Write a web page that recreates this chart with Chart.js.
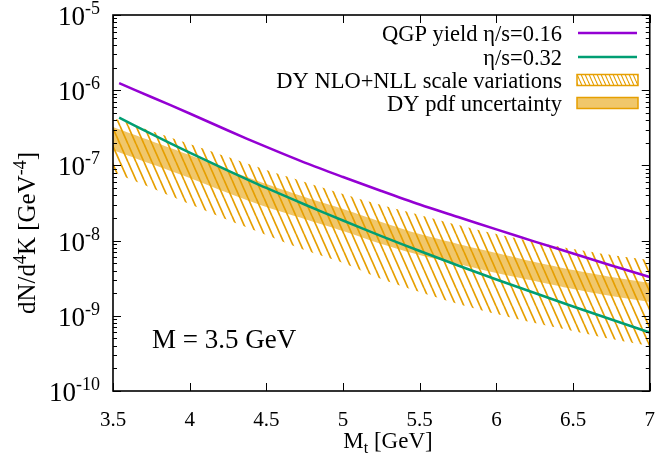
<!DOCTYPE html>
<html>
<head>
<meta charset="utf-8">
<script src="https://cdn.jsdelivr.net/npm/chart.js@4.4.1/dist/chart.umd.min.js"></script>
<style>
  html, body { margin: 0; padding: 0; background: #fff; }
  #wrap { width: 672px; height: 460px; }
</style>
</head>
<body>
<div id="wrap"><canvas id="yield-chart" width="672" height="460"></canvas></div>
<script>
// transverse mass grid [GeV]
const mtBand = [3.5, 3.75, 4.0, 4.25, 4.5, 4.75, 5.0, 5.25, 5.5, 5.75, 6.0, 6.25, 6.5, 6.75, 7.0];
const mtCurve = [3.54, 3.75, 4.0, 4.25, 4.5, 4.75, 5.0, 5.25, 5.5, 5.75, 6.0, 6.25, 6.5, 6.75, 7.0];

// QGP thermal yield, dN/d^4K [GeV^-4]
const qgpEta016 = [1.24e-6, 8.12e-7, 4.90e-7, 2.91e-7, 1.76e-7, 1.09e-7, 7.01e-8, 4.57e-8, 3.02e-8, 2.06e-8, 1.41e-8, 9.7e-9, 6.74e-9, 4.67e-9, 3.28e-9];
const qgpEta032 = [4.31e-7, 2.62e-7, 1.48e-7, 8.55e-8, 5.01e-8, 3.02e-8, 1.85e-8, 1.15e-8, 7.27e-9, 4.67e-9, 3.04e-9, 2.01e-9, 1.33e-9, 8.93e-10, 6.0e-10];

// Drell-Yan bands
const dyScaleHigh = [4.27e-7, 2.87e-7, 1.93e-7, 1.29e-7, 8.69e-8, 6.02e-8, 4.17e-8, 2.97e-8, 2.19e-8, 1.61e-8, 1.22e-8, 9.58e-9, 7.73e-9, 6.43e-9, 5.52e-9];
const dyScaleLow = [8.17e-8, 5.01e-8, 3.07e-8, 1.88e-8, 1.19e-8, 7.50e-9, 5.04e-9, 3.09e-9, 2.07e-9, 1.44e-9, 1.06e-9, 8.02e-10, 6.28e-10, 4.91e-10, 3.97e-10];
const dyPdfHigh = [3.24e-7, 2.11e-7, 1.37e-7, 8.69e-8, 5.66e-8, 3.80e-8, 2.63e-8, 1.77e-8, 1.22e-8, 9.01e-9, 6.84e-9, 5.19e-9, 4.06e-9, 3.28e-9, 2.73e-9];
const dyPdfLow = [1.60e-7, 1.04e-7, 6.80e-8, 4.30e-8, 2.80e-8, 1.94e-8, 1.34e-8, 9.01e-9, 6.43e-9, 4.89e-9, 3.71e-9, 2.90e-9, 2.27e-9, 1.83e-9, 1.53e-9];

// axis ticks
const mtTicks = [3.5, 4, 4.5, 5, 5.5, 6, 6.5, 7];
const yDecades = [-5, -6, -7, -8, -9, -10];

const legendLabels = ['QGP yield \u03b7/s=0.16', '\u03b7/s=0.32', 'DY NLO+NLL scale variations', 'DY pdf uncertainty'];

const PURPLE = '#9400d3';
const GREEN = '#009e73';
const ORANGE = '#e69f00';
const ORANGE_FILL = 'rgba(230, 159, 0, 0.58)';
const SERIF = '"Liberation Serif", "Times New Roman", serif';

function pts(xs, ys) {
    return xs.map((x, i) => ({ x: x, y: ys[i] }));
}

function makeHatch(ctx, w, h, lw) {
    const c = document.createElement('canvas');
    c.width = w;
    c.height = h;
    const g = c.getContext('2d');
    g.strokeStyle = ORANGE;
    g.lineWidth = lw;
    for (let k = -1; k <= 1; k++) {
        g.beginPath();
        g.moveTo(k * w, 0);
        g.lineTo((k + 1) * w, h);
        g.stroke();
    }
    return ctx.createPattern(c, 'repeat');
}

const canvas = document.getElementById('yield-chart');
const ctx = canvas.getContext('2d');
const hatch = makeHatch(ctx, 8, 18, 1.7);
const hatchKey = makeHatch(ctx, 4, 9, 1.1);

function line(c, x1, y1, x2, y2) {
    c.beginPath();
    c.moveTo(x1, y1);
    c.lineTo(x2, y2);
    c.stroke();
}

// draws pieces of text with superscripts/subscripts, returns total width
function richText(c, parts, x, y, big, small, shift, measureOnly) {
    let cx = x;
    parts.forEach(p => {
        const scr = p.sup || p.sub;
        c.font = (scr ? small : big) + 'px ' + SERIF;
        if (!measureOnly) {
            let ty = y;
            if (p.sup) ty = y - shift;
            if (p.sub) ty = y + shift;
            c.fillText(p.t, cx, ty);
        }
        cx += c.measureText(p.t).width;
    });
    return cx - x;
}

const framePlugin = {
    id: 'frame',
    afterDraw(chart) {
        const c = chart.ctx;
        const a = chart.chartArea;
        const xs = chart.scales.x;
        const ys = chart.scales.y;
        c.save();
        c.strokeStyle = '#000';
        c.fillStyle = '#000';

        // major x ticks, bottom and top, pointing inward
        c.lineWidth = 1;
        mtTicks.forEach(v => {
            const px = Math.round(xs.getPixelForValue(v)) + 0.5;
            line(c, px, a.bottom, px, a.bottom - 8);
            line(c, px, a.top, px, a.top + 8);
        });

        // log ticks on left and right
        yDecades.forEach(n => {
            for (let k = 1; k <= 9; k++) {
                const v = k * Math.pow(10, n);
                if (v > 1e-5 * 1.0001) continue;
                const py = Math.round(ys.getPixelForValue(v)) + 0.5;
                const len = k === 1 ? 8 : 4;
                line(c, a.left, py, a.left + len, py);
                line(c, a.right, py, a.right - len, py);
            }
        });

        // border
        c.lineWidth = 1.6;
        c.strokeRect(a.left, a.top, a.right - a.left, a.bottom - a.top);

        // y tick labels 10^n
        c.textAlign = 'left';
        c.textBaseline = 'alphabetic';
        yDecades.forEach(n => {
            const py = ys.getPixelForValue(Math.pow(10, n));
            const parts = [{ t: '10' }, { t: String(n), sup: true }];
            const w = richText(c, parts, 0, 0, 27, 18, 11, true);
            richText(c, parts, 100 - w, py + 10, 27, 18, 11, false);
        });

        // y axis title
        const yTitle = [{ t: 'dN/d' }, { t: '4', sup: true }, { t: 'K [GeV' }, { t: '-4', sup: true }, { t: ']' }];
        c.save();
        c.translate(35, 233);
        c.rotate(-Math.PI / 2);
        const tw = richText(c, yTitle, 0, 0, 25, 18, 9, true);
        richText(c, yTitle, -tw / 2, 0, 25, 18, 9, false);
        c.restore();

        // x axis title M_t [GeV]
        const xTitle = [{ t: 'M' }, { t: 't', sub: true }, { t: ' [GeV]' }];
        const xw = richText(c, xTitle, 0, 0, 23, 16, 5, true);
        richText(c, xTitle, 388 - xw / 2, 448, 23, 16, 5, false);

        // legend, text right aligned, key on the right
        const rowY = [33, 57, 80, 103];
        c.font = '22.5px ' + SERIF;
        c.textAlign = 'right';
        legendLabels.forEach((lbl, i) => {
            c.fillStyle = '#000';
            c.fillText(lbl, 562, rowY[i] + 7.5);
        });
        c.lineWidth = 2.5;
        c.strokeStyle = PURPLE;
        line(c, 578, rowY[0], 637, rowY[0]);
        c.strokeStyle = GREEN;
        line(c, 578, rowY[1], 637, rowY[1]);
        c.lineWidth = 1.5;
        c.strokeStyle = ORANGE;
        c.fillStyle = hatchKey;
        c.fillRect(577, rowY[2] - 5.5, 61, 11);
        c.strokeRect(577, rowY[2] - 5.5, 61, 11);
        c.fillStyle = ORANGE_FILL;
        c.fillRect(577, rowY[3] - 5.5, 61, 11);
        c.strokeRect(577, rowY[3] - 5.5, 61, 11);

        // mass label
        c.fillStyle = '#000';
        c.textAlign = 'left';
        c.font = '27px ' + SERIF;
        c.fillText('M = 3.5 GeV', 152, 348);

        c.restore();
    }
};

new Chart(ctx, {
    type: 'line',
    data: {
        datasets: [
            { label: legendLabels[0], data: pts(mtCurve, qgpEta016), borderColor: PURPLE, borderWidth: 2.5, fill: false },
            { label: legendLabels[1], data: pts(mtCurve, qgpEta032), borderColor: GREEN, borderWidth: 2.5, fill: false },
            { label: 'scale high', data: pts(mtBand, dyScaleHigh), borderWidth: 0, borderColor: 'rgba(0,0,0,0)', backgroundColor: hatch, fill: '+1' },
            { label: 'scale low', data: pts(mtBand, dyScaleLow), borderWidth: 0, borderColor: 'rgba(0,0,0,0)', fill: false },
            { label: 'pdf high', data: pts(mtBand, dyPdfHigh), borderWidth: 0, borderColor: 'rgba(0,0,0,0)', backgroundColor: ORANGE_FILL, fill: '+1' },
            { label: 'pdf low', data: pts(mtBand, dyPdfLow), borderWidth: 0, borderColor: 'rgba(0,0,0,0)', fill: false }
        ]
    },
    options: {
        responsive: false,
        animation: false,
        devicePixelRatio: 1,
        layout: { padding: { top: 15, right: 8, left: 0, bottom: 0 } },
        elements: { point: { radius: 0 }, line: { tension: 0.3 } },
        plugins: {
            legend: { display: false },
            tooltip: { enabled: false }
        },
        scales: {
            x: {
                type: 'linear',
                min: 3.5,
                max: 7,
                grid: { display: false, drawTicks: false },
                border: { display: false },
                ticks: {
                    stepSize: 0.5,
                    autoSkip: false,
                    maxRotation: 0,
                    padding: 17,
                    color: '#000',
                    font: { family: SERIF, size: 21 },
                    callback: function(value) { return String(value); }
                },
                afterFit: function(scale) { scale.height = 69; }
            },
            y: {
                type: 'logarithmic',
                min: 1e-10,
                max: 1e-5,
                grid: { display: false, drawTicks: false },
                border: { display: false },
                ticks: { display: false },
                afterFit: function(scale) { scale.width = 113; }
            }
        }
    },
    plugins: [framePlugin]
});
</script>
</body>
</html>
